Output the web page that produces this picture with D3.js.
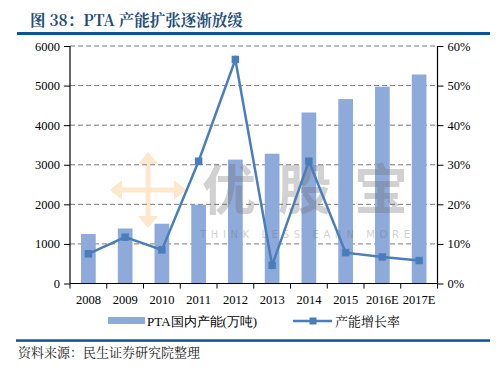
<!DOCTYPE html>
<html><head><meta charset="utf-8">
<script src="https://cdn.jsdelivr.net/npm/d3@7"></script>
<style>
body{margin:0;background:#fff;}
svg{display:block;}
</style></head>
<body>
<svg id="chart" width="502" height="376"></svg>
<script>
const categories = ["2008","2009","2010","2011","2012","2013","2014","2015","2016E","2017E"];
const capacity = [1250,1390,1510,1990,3130,3280,4320,4660,4970,5280];
const growth = [7.5,11.7,8.5,30.9,56.6,4.6,30.9,7.8,6.7,5.8];
const leftTicks = [0,1000,2000,3000,4000,5000,6000];
const rightTicks = [0,10,20,30,40,50,60];
const title = "图 38：PTA 产能扩张逐渐放缓";
const source = "资料来源：民生证券研究院整理";
const legendLabels = ["PTA国内产能(万吨)","产能增长率"];

const svg = d3.select("#chart");
const m = {l:70, r:437.5, t:46, b:283.5};
const serif = "'Liberation Serif','Times New Roman',serif";
const cjkSerif = "'Noto Serif CJK SC','Noto Sans CJK SC',serif";

const x = d3.scaleBand().domain(categories).range([m.l, m.r]).padding(0);
const yL = d3.scaleLinear().domain([0,6000]).range([m.b, m.t]);
const yR = d3.scaleLinear().domain([0,60]).range([m.b, m.t]);

// title
svg.append("text").attr("x",30).attr("y",26)
  .attr("font-family", cjkSerif).attr("font-weight","bold").attr("font-size",15.5)
  .attr("fill","#1f4e79").text(title);
svg.append("rect").attr("x",17).attr("y",32).attr("width",473).attr("height",3).attr("fill","#0b5394");

// gridlines
svg.append("g").selectAll("line").data(leftTicks.filter(d=>d>0)).join("line")
  .attr("x1",m.l).attr("x2",m.r).attr("y1",d=>yL(d)).attr("y2",d=>yL(d))
  .attr("stroke","#7a7a7a").attr("stroke-width",1).attr("stroke-dasharray","5,3");

// bars
const bw = 14.7;
svg.append("g").selectAll("rect").data(categories).join("rect")
  .attr("x",(d)=>x(d)+x.bandwidth()/2-bw/2)
  .attr("y",(d,i)=>yL(capacity[i]))
  .attr("width",bw)
  .attr("height",(d,i)=>yL(0)-yL(capacity[i]))
  .attr("fill","#8eaadb");

// watermark
const wm = svg.append("g").attr("opacity",0.3);
const ac = {x:148,y:190};
const arrowCol = "#f9b45a";
[[0,-1],[0,1],[-1,0],[1,0]].forEach(([dx,dy])=>{
  wm.append("line").attr("x1",ac.x).attr("y1",ac.y).attr("x2",ac.x+dx*36).attr("y2",ac.y+dy*36)
    .attr("stroke",arrowCol).attr("stroke-width",5);
  const tx=ac.x+dx*38, ty=ac.y+dy*38;
  const px=-dy, py=dx;
  wm.append("path").attr("d",`M${tx},${ty} L${tx-dx*12+px*10},${ty-dy*12+py*10} L${tx-dx*12-px*10},${ty-dy*12-py*10}Z`)
    .attr("fill",arrowCol);
});
wm.append("text").attr("x",305).attr("y",210).attr("text-anchor","middle")
  .attr("font-family","'Noto Sans CJK SC',sans-serif").attr("font-weight","bold").attr("font-size",54)
  .attr("fill","#6a6a6a").attr("textLength",206).text("优股宝");
wm.append("text").attr("x",305).attr("y",238).attr("text-anchor","middle")
  .attr("font-family","'DejaVu Sans',sans-serif").attr("font-size",10)
  .attr("fill","#6a6a6a").attr("textLength",210).text("THINK LESS EARN MORE");

// line
const lineCol = "#4a7ebb";
const line = d3.line().x((d,i)=>x(categories[i])+x.bandwidth()/2).y(d=>yR(d));
svg.append("path").datum(growth).attr("d",line).attr("fill","none")
  .attr("stroke",lineCol).attr("stroke-width",2.5).attr("stroke-linejoin","miter");
svg.append("g").selectAll("rect").data(growth).join("rect")
  .attr("x",(d,i)=>x(categories[i])+x.bandwidth()/2-3.75)
  .attr("y",d=>yR(d)-3.75).attr("width",7.5).attr("height",7.5).attr("fill",lineCol);

// axes
const axL = d3.axisLeft(yL).tickValues(leftTicks).tickSize(6).tickPadding(4).tickFormat(d3.format("d"));
const gL = svg.append("g").attr("transform",`translate(${m.l},0)`).call(axL);
const axR = d3.axisRight(yR).tickValues(rightTicks).tickSize(6).tickPadding(4).tickFormat(d=>d+"%");
const gR = svg.append("g").attr("transform",`translate(${m.r},0)`).call(axR);
const axB = d3.axisBottom(x).tickSize(0).tickPadding(12);
const gB = svg.append("g").attr("transform",`translate(0,${m.b})`).call(axB);
// category boundary ticks
svg.append("g").selectAll("line").data(d3.range(categories.length+1)).join("line")
  .attr("x1",i=>m.l+i*x.bandwidth()).attr("x2",i=>m.l+i*x.bandwidth())
  .attr("y1",m.b).attr("y2",m.b+5).attr("stroke","#000");
[gL,gR,gB].forEach(g=>{
  g.select(".domain").attr("stroke","#000").attr("stroke-width",1.2);
  g.selectAll(".tick line").attr("stroke","#000");
  g.selectAll("text").attr("font-family",serif).attr("font-size",12.5).attr("fill","#000");
});
gB.select(".domain").attr("d",`M${m.l},0H${m.r}`);
gL.select(".domain").attr("d",`M0,${m.b}V${m.t}`);
gR.select(".domain").attr("d",`M0,${m.b}V${m.t}`);

// legend
svg.append("rect").attr("x",108).attr("y",317).attr("width",37).attr("height",7).attr("fill","#8eaadb");
svg.append("text").attr("x",147).attr("y",325.5).attr("font-family",serif).attr("font-size",13).text(legendLabels[0]);
svg.append("line").attr("x1",293).attr("x2",332).attr("y1",321).attr("y2",321).attr("stroke",lineCol).attr("stroke-width",2.5);
svg.append("rect").attr("x",309.5).attr("y",317.5).attr("width",7).attr("height",7).attr("fill",lineCol);
svg.append("text").attr("x",335).attr("y",325.5).attr("font-family",cjkSerif).attr("font-size",13).text(legendLabels[1]);

// bottom
svg.append("rect").attr("x",16).attr("y",339.3).attr("width",474).attr("height",2.5).attr("fill","#0b5394");
svg.append("text").attr("x",18).attr("y",357).attr("font-family",cjkSerif).attr("font-size",13)
  .attr("fill","#222").text(source);
</script>
</body></html>
